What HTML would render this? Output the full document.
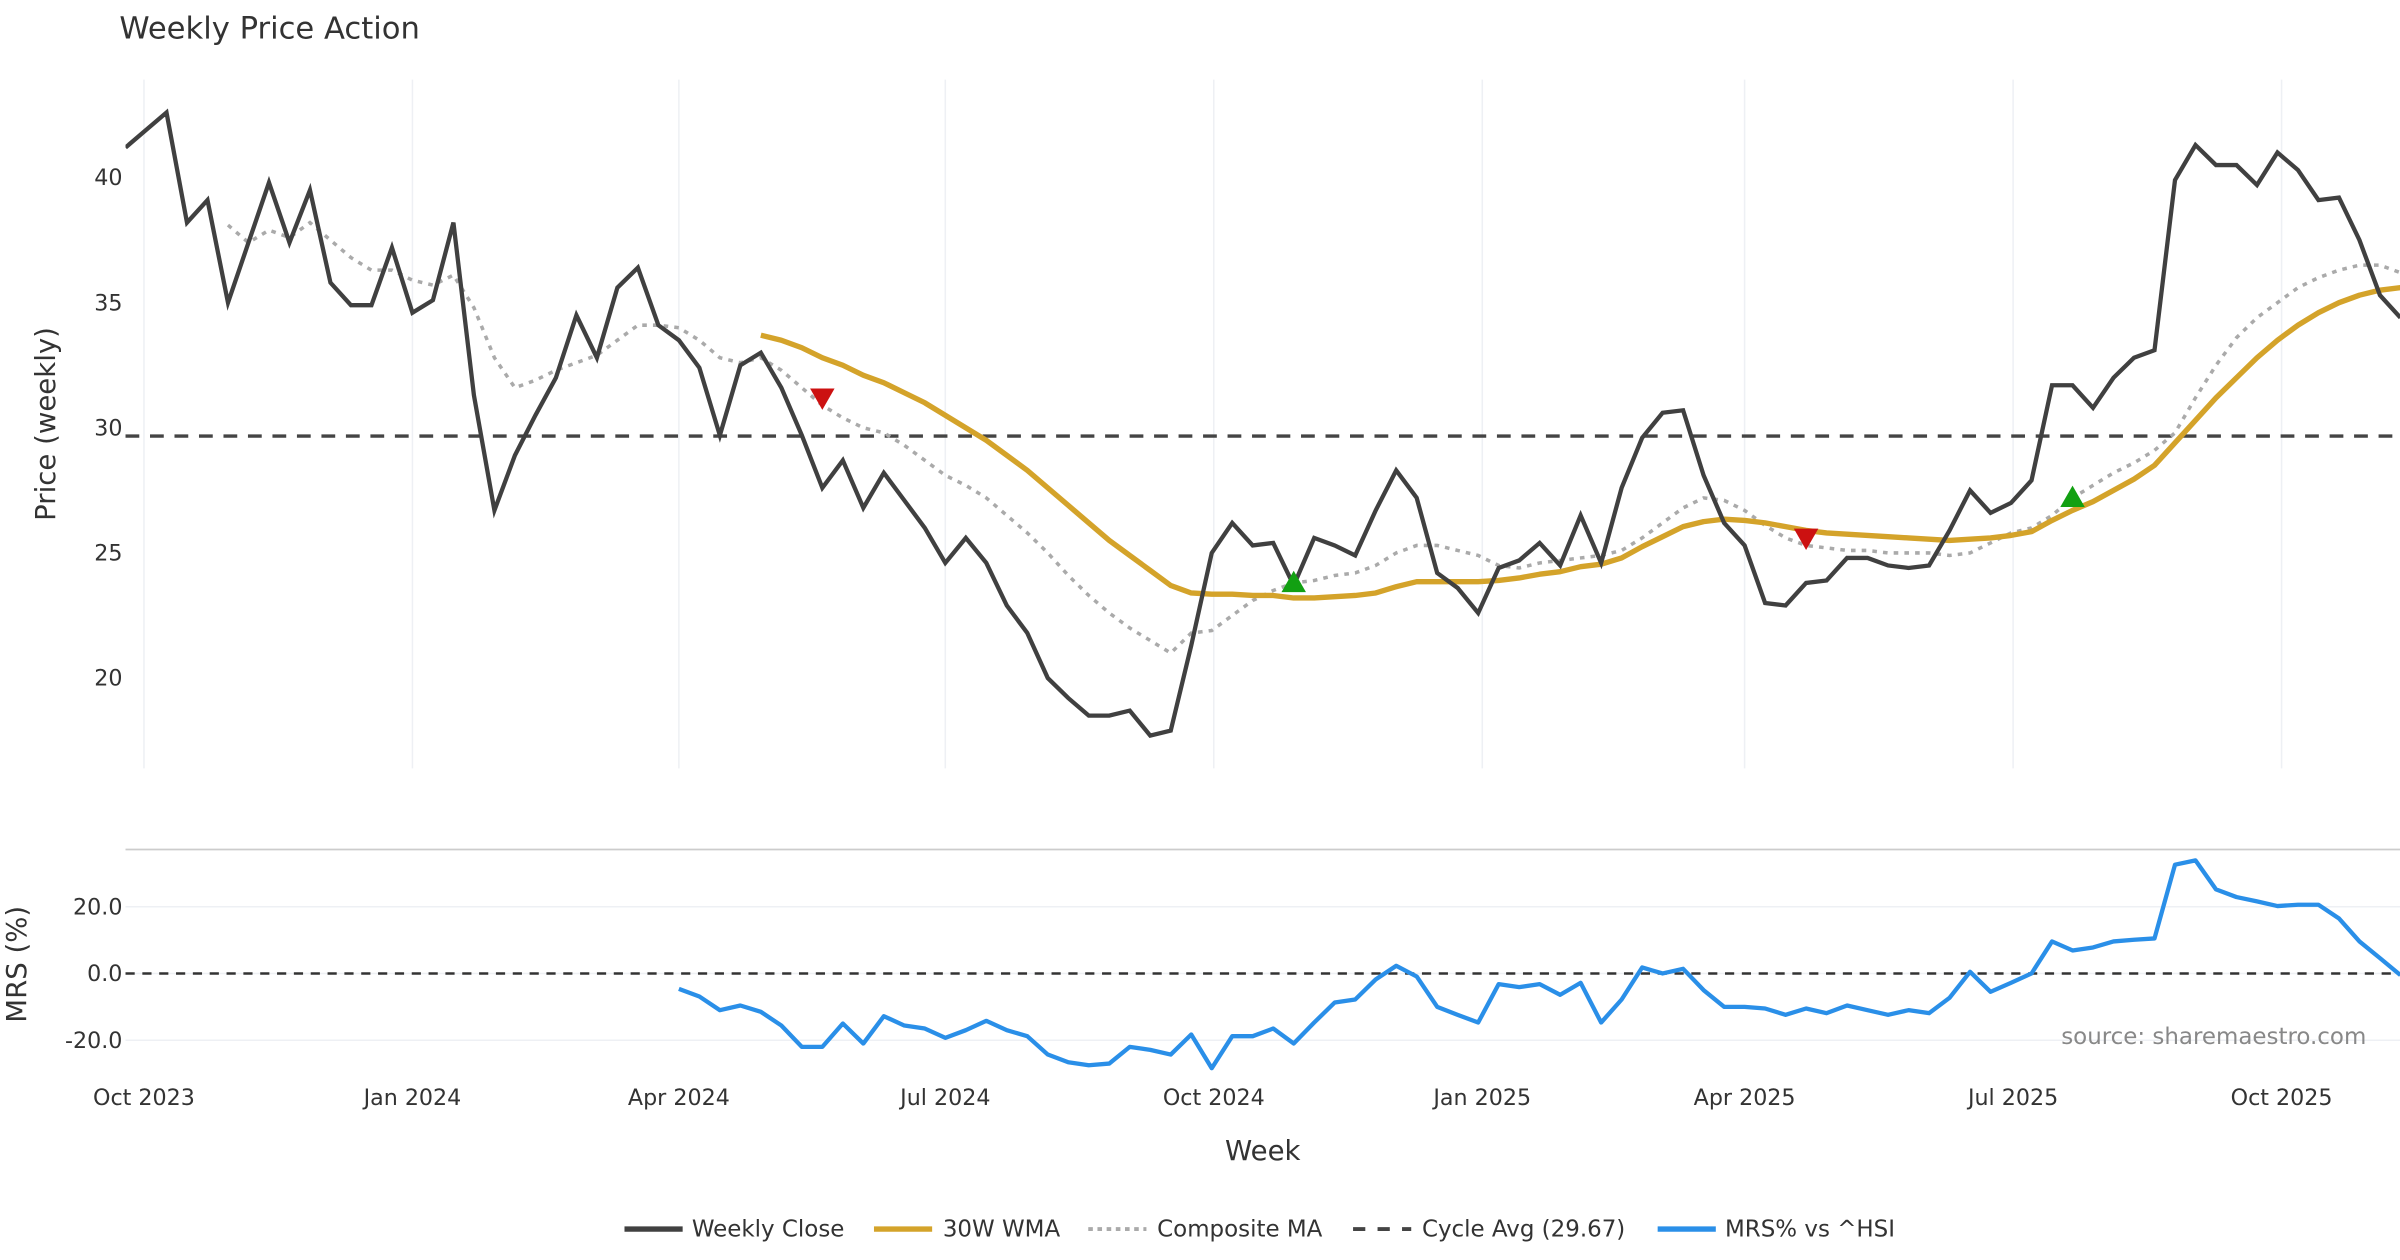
<!DOCTYPE html>
<html><head><meta charset="utf-8"><style>
html,body{margin:0;padding:0;background:#fff}
svg{display:block;font-family:"DejaVu Sans","Liberation Sans",sans-serif}
</style></head><body>
<svg id="chart" width="2400" height="1260" viewBox="0 0 1568 823.2" xmlns="http://www.w3.org/2000/svg">
<defs>
<clipPath id="cp1"><rect x="82" y="52" width="1486" height="452"/></clipPath>
<clipPath id="cp2"><rect x="82" y="556" width="1486" height="150"/></clipPath>
</defs>
<text x="78" y="25" font-size="20" fill="#333">Weekly Price Action</text>
<g id="vgrid"></g>
<g id="yticks"></g>
<g id="mticks"></g>
<g id="xticks"></g>
<line x1="82" y1="555" x2="1568" y2="555" stroke="#cccccc" stroke-width="1.2"/>
<g id="price" clip-path="url(#cp1)"></g>
<g id="mrs" clip-path="url(#cp2)"></g>
<text transform="translate(36,277) rotate(-90)" text-anchor="middle" font-size="18" fill="#333">Price (weekly)</text>
<text transform="translate(17,630) rotate(-90)" text-anchor="middle" font-size="18" fill="#333">MRS (%)</text>
<text x="825" y="758" text-anchor="middle" font-size="18" fill="#333">Week</text>
<text x="1546" y="682" text-anchor="end" font-size="15" fill="#888">source: sharemaestro.com</text>
<g font-size="15" fill="#333">
<g><line x1="408" y1="803" x2="446" y2="803" stroke="#404040" stroke-width="3.5"/><text x="452" y="808">Weekly Close</text></g>
<g><line x1="571" y1="803" x2="609" y2="803" stroke="#D4A32A" stroke-width="3.5"/><text x="616" y="808">30W WMA</text></g>
<g><line x1="711" y1="803" x2="749" y2="803" stroke="#aaaaaa" stroke-width="2.5" stroke-dasharray="3,3"/><text x="756" y="808">Composite MA</text></g>
<g><line x1="884" y1="803" x2="922" y2="803" stroke="#444" stroke-width="2.5" stroke-dasharray="8,8"/><text x="929" y="808">Cycle Avg (29.67)</text></g>
<g><line x1="1083" y1="803" x2="1121" y2="803" stroke="#2A8FE8" stroke-width="3.5"/><text x="1127" y="808">MRS% vs ^HSI</text></g>
</g>
</svg>
<script>
const closeVals=[41.2,41.9,42.6,38.2,39.1,35.0,37.4,39.8,37.4,39.5,35.8,34.9,34.9,37.2,34.6,35.1,38.2,31.3,26.7,28.9,30.5,32.0,34.5,32.8,35.6,36.4,34.1,33.5,32.4,29.7,32.5,33.0,31.6,29.7,27.6,28.7,26.8,28.2,27.1,26.0,24.6,25.6,24.6,22.9,21.8,20.0,19.2,18.5,18.5,18.7,17.7,17.9,21.3,25.0,26.2,25.3,25.4,23.7,25.6,25.3,24.9,26.7,28.3,27.2,24.2,23.6,22.6,24.4,24.7,25.4,24.5,26.5,24.6,27.6,29.6,30.6,30.7,28.1,26.2,25.3,23.0,22.9,23.8,23.9,24.8,24.8,24.5,24.4,24.5,25.9,27.5,26.6,27.0,27.9,31.7,31.7,30.8,32.0,32.8,33.1,39.9,41.3,40.5,40.5,39.7,41.0,40.3,39.1,39.2,37.5,35.3,34.4];
const wmaStart=31;
const wmaVals=[33.7,33.5,33.2,32.8,32.5,32.1,31.8,31.4,31.0,30.5,30.0,29.5,28.9,28.3,27.6,26.9,26.2,25.5,24.9,24.3,23.7,23.4,23.35,23.35,23.3,23.3,23.2,23.2,23.25,23.3,23.4,23.65,23.85,23.85,23.85,23.85,23.9,24.0,24.15,24.25,24.45,24.55,24.8,25.25,25.65,26.05,26.25,26.35,26.3,26.2,26.05,25.9,25.8,25.75,25.7,25.65,25.6,25.55,25.5,25.55,25.6,25.7,25.85,26.3,26.7,27.05,27.5,27.95,28.5,29.4,30.3,31.2,32.0,32.8,33.5,34.1,34.6,35.0,35.3,35.5,35.6];
const compStart=5;
const compVals=[38.1,37.4,37.9,37.6,38.2,37.5,36.8,36.3,36.3,35.9,35.7,36.1,34.8,32.8,31.6,31.9,32.3,32.6,32.9,33.5,34.1,34.1,34.0,33.5,32.8,32.6,32.8,32.3,31.6,30.9,30.4,30.0,29.8,29.3,28.7,28.1,27.7,27.2,26.5,25.8,25.0,24.1,23.3,22.6,22.0,21.5,21.0,21.8,21.9,22.5,23.1,23.5,23.8,23.9,24.1,24.2,24.5,25.0,25.3,25.3,25.1,24.9,24.5,24.4,24.6,24.7,24.8,24.9,25.1,25.6,26.2,26.8,27.2,27.1,26.7,26.1,25.6,25.3,25.2,25.1,25.1,25.0,25.0,25.0,24.9,25.0,25.4,25.8,26.0,26.5,27.2,27.7,28.2,28.6,29.1,29.8,31.2,32.5,33.6,34.4,35.0,35.6,36.0,36.3,36.5,36.5,36.2,35.8];
const mrsStart=27;
const mrsVals=[-4.6,-6.9,-11,-9.6,-11.5,-15.6,-22,-22,-15,-21,-12.8,-15.6,-16.5,-19.3,-17,-14.2,-17,-18.8,-24.3,-26.6,-27.5,-27,-22,-22.9,-24.3,-18.3,-28.4,-18.8,-18.8,-16.5,-21,-14.7,-8.7,-7.8,-1.8,2.3,-0.9,-10,-12.4,-14.7,-3.2,-4.1,-3.2,-6.4,-2.8,-14.7,-7.8,1.8,0,1.4,-5,-10,-10,-10.5,-12.4,-10.5,-11.9,-9.6,-11,-12.4,-11,-11.9,-7.3,0.5,-5.5,-2.8,0,9.6,6.9,7.8,9.6,10.1,10.5,32.6,33.9,25.2,22.9,21.6,20.2,20.6,20.6,16.5,9.6,4.6,-0.5];
const cycleAvg=29.67;
const buyIdx=[57,95];
const sellIdx=[34,82];
const priceTicks=[20,25,30,35,40];
const mrsTicks=[-20,0,20];
const xTickLabels=["Oct 2023","Jan 2024","Apr 2024","Jul 2024","Oct 2024","Jan 2025","Apr 2025","Jul 2025","Oct 2025"];
const xTickWeeks=[0.9,14.0,27.0,40.0,53.1,66.2,79.0,92.1,105.2];

const NS="http://www.w3.org/2000/svg";
const xs=i=>82+i*13.39;
const yp=v=>116+(40-v)*16.35;
const ym=v=>636-v*2.18;
function mk(tag,attrs,parent){const e=document.createElementNS(NS,tag);for(const k in attrs)e.setAttribute(k,attrs[k]);parent.appendChild(e);return e;}
function pathD(vals,start,yf){return vals.map((v,j)=>(j?"L":"M")+xs(start+j).toFixed(2)+","+yf(v).toFixed(2)).join("");}
const G=id=>document.getElementById(id);

xTickWeeks.forEach((w,k)=>{
  const l=mk("line",{x1:xs(w),x2:xs(w),y1:52,y2:502,stroke:"#eef0f4","stroke-width":1},G("vgrid"));
  
  
  const t=mk("text",{x:xs(w),y:722,"text-anchor":"middle","font-size":14.5,fill:"#333"},G("xticks"));
  t.textContent=xTickLabels[k];
  
  
});
priceTicks.forEach(v=>{
  const t=mk("text",{x:80,y:yp(v)+5,"text-anchor":"end","font-size":14.5,fill:"#333"},G("yticks"));
  t.textContent=v;
  
  
});
mrsTicks.forEach(v=>{
  const g=mk("line",{x1:82,x2:1568,y1:ym(v),y2:ym(v),stroke:"#eef0f4","stroke-width":1},G("mticks"));
  
  
  const t=mk("text",{x:80,y:ym(v)+5,"text-anchor":"end","font-size":14.5,fill:"#333"},G("mticks"));
  t.textContent=v.toFixed(1);
  
  
});
const P=G("price");
const ca=mk("line",{x1:82,x2:1568,y1:yp(cycleAvg),y2:yp(cycleAvg),stroke:"#444","stroke-width":2.2,"stroke-dasharray":"9,7"},P);


const cm=mk("path",{d:pathD(compVals,compStart,yp),fill:"none",stroke:"#aaaaaa","stroke-width":2.3,"stroke-dasharray":"3,4"},P);


const wm=mk("path",{d:pathD(wmaVals,wmaStart,yp),fill:"none",stroke:"#D4A32A","stroke-width":3.5,"stroke-linejoin":"round"},P);


const cl=mk("path",{d:pathD(closeVals,0,yp),fill:"none",stroke:"#404040","stroke-width":2.8,"stroke-linejoin":"miter"},P);


buyIdx.forEach(i=>{
  const x=xs(i);
  const y0=yp(compVals[i-compStart]);
  const tr=mk("polygon",{points:`${x-8},${y0+6} ${x+8},${y0+6} ${x},${y0-8}`,fill:"#12a012"},P);
  
  
});
sellIdx.forEach(i=>{
  const y0=yp(compVals[i-compStart])-5;const x=xs(i);
  const tr=mk("polygon",{points:`${x-8},${y0-6} ${x+8},${y0-6} ${x},${y0+8}`,fill:"#cc1111"},P);
  
  
});
const M=G("mrs");
const z=mk("line",{x1:82,x2:1568,y1:ym(0),y2:ym(0),stroke:"#333","stroke-width":1.6,"stroke-dasharray":"6,5"},M);


const mp=mk("path",{d:pathD(mrsVals,mrsStart,ym),fill:"none",stroke:"#2A8FE8","stroke-width":2.8,"stroke-linejoin":"round"},M);


</script>
</body></html>
